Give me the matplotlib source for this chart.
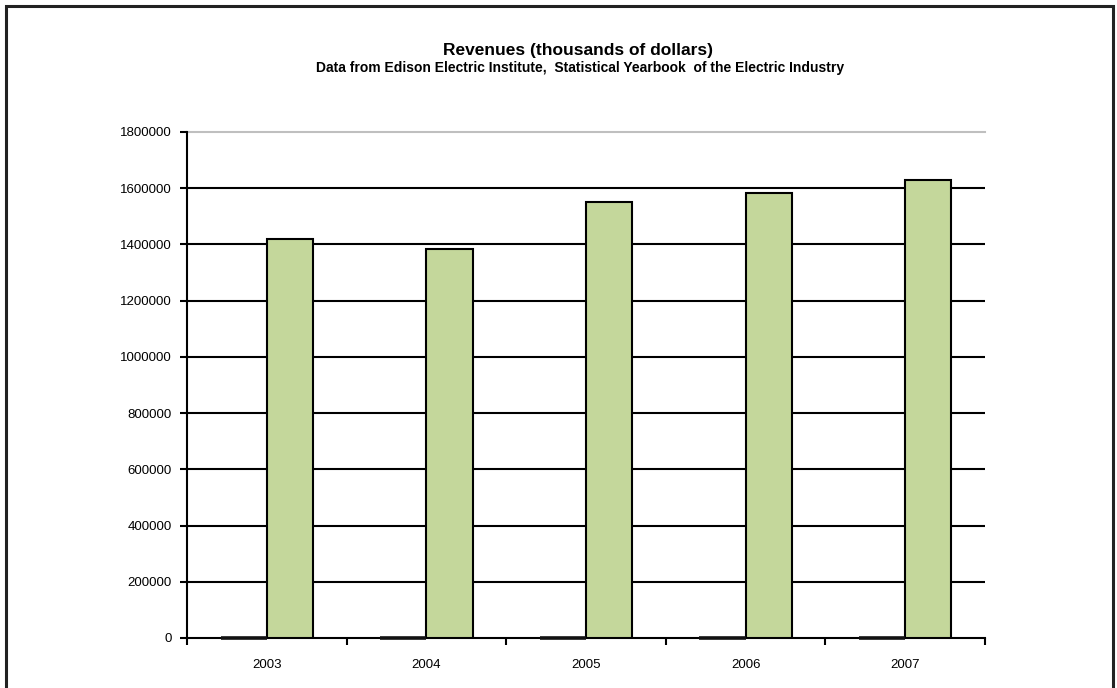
import matplotlib
matplotlib.use("Agg")
import matplotlib.pyplot as plt
from matplotlib.patches import Rectangle
import numpy as np

plt.rcParams['font.family'] = ['Liberation Sans', 'DejaVu Sans']

years = ['2003', '2004', '2005', '2006', '2007']
other_series = [0, 0, 0, 0, 0]
revenues = [1421000, 1383000, 1550000, 1582000, 1629000]
yticks = [0, 200000, 400000, 600000, 800000, 1000000, 1200000, 1400000, 1600000, 1800000]

fig = plt.figure(figsize=(11.17, 6.88), dpi=100)
fig.patch.set_facecolor('white')

# outer chart border
fig.patches.append(Rectangle((6/1117, -0.05), (1113-6)/1117, 1 - 6/688 + 0.05,
                             transform=fig.transFigure, fill=False,
                             edgecolor='#222222', linewidth=2.2, zorder=10))

ax = fig.add_axes([187/1117, 50/688, (985-187)/1117, (638-132)/688])

x = np.arange(len(years))
w = 0.29
zb = ax.bar(x - w/2, other_series, width=w, color='#1f1f1f', edgecolor='#111111', linewidth=2.6, zorder=5)
for p in zb:
    p.set_clip_on(False)
ax.bar(x + w/2, revenues, width=w, color='#C4D79B', edgecolor='black', linewidth=1.5, zorder=3)

ax.set_xlim(-0.5, len(years) - 0.5)
ax.set_ylim(0, 1800000)
ax.set_yticks(yticks)
ax.set_yticklabels([str(v) for v in yticks], fontsize=9.5)
for yv in yticks[1:-1]:
    ax.axhline(yv, color='black', linewidth=1.5, zorder=1)
ax.axhline(1800000, color='#bfbfbf', linewidth=1.5, zorder=1, clip_on=False)

ax.set_xticks(np.arange(-0.5, len(years)), minor=False)
ax.set_xticklabels([''] * (len(years) + 1))
ax.set_xticks(x, minor=True)
ax.set_xticklabels(years, minor=True, fontsize=9.5)
ax.tick_params(axis='x', which='major', direction='out', length=5, width=1.5, color='black')
ax.tick_params(axis='x', which='minor', length=0, pad=15)
ax.tick_params(axis='y', direction='out', length=5, width=1.5, color='black', pad=6)

for s in ['top', 'right']:
    ax.spines[s].set_visible(False)
ax.spines['left'].set_linewidth(1.5)
ax.spines['bottom'].set_linewidth(1.5)

fig.text(578/1117, 1 - 50/688, 'Revenues (thousands of dollars)', ha='center', va='center',
         fontsize=12.5, fontweight='bold')
fig.text(580/1117, 1 - 68/688, 'Data from Edison Electric Institute,  Statistical Yearbook  of the Electric Industry',
         ha='center', va='center', fontsize=10, fontweight='bold')

fig.savefig('out.png', dpi=100)
